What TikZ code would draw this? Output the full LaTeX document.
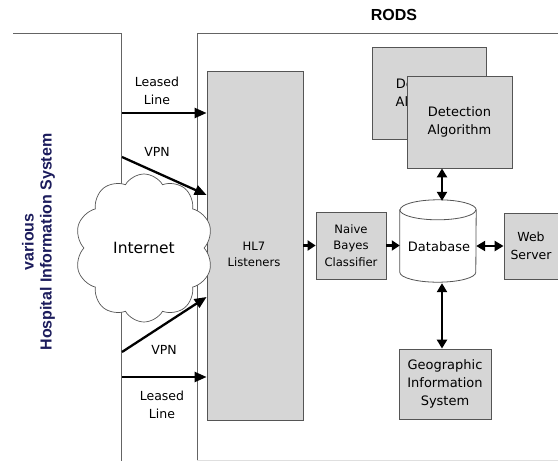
\documentclass[tikz,border=0pt]{standalone}
\usepackage{fontspec}
\setmainfont{DejaVu Sans}
\newfontfamily\arialb{Liberation Sans}[BoldFont={Liberation Sans Bold}]
\usetikzlibrary{arrows.meta,shapes.symbols}
\definecolor{boxfill}{RGB}{214,214,214}
\definecolor{edge}{RGB}{85,85,85}
\definecolor{framec}{RGB}{100,100,100}
\definecolor{navy}{RGB}{28,28,92}
\begin{document}
\begin{tikzpicture}[x=1pt,y=-1pt,
 box/.style={draw=edge, line width=0.8pt, fill=boxfill, align=center, inner sep=0pt},
 frameline/.style={draw=framec, line width=0.8pt},
 arr/.style={line width=2.3pt, -{Triangle[length=12pt,width=10pt]}},
 dbl/.style={line width=2.3pt, {Triangle[length=9pt,width=10pt]}-{Triangle[length=9pt,width=10pt]}},
 sarr/.style={line width=2.3pt, -{Triangle[length=8pt,width=10pt]}},
 lbl/.style={font=\fontsize{12.5}{18}\selectfont, align=center, inner sep=0pt},
 boxtxt/.style={font=\fontsize{13}{18}\selectfont, align=center, inner sep=0pt},
 smalltxt/.style={font=\fontsize{11.6}{16.5}\selectfont, align=center, inner sep=0pt},
]
\useasboundingbox (0,0) rectangle (558,461);

% frames
\draw[frameline] (13,33) -- (121,33) -- (121,461);
\draw[frameline] (197,461) -- (197,33) -- (558,33);
\draw[draw=gray!25, line width=0.6pt] (197,460.5) -- (558,460.5);

% titles
\node[font=\arialb\bfseries\fontsize{16}{18}\selectfont] (rods) at (394,15) {RODS};
\node[font=\arialb\bfseries\fontsize{16}{18}\selectfont, text=navy, rotate=90, align=center, inner sep=0pt] (his) at (38.5,242) {various\\Hospital Information System};

% HL7 listeners
\node[box, minimum width=96pt, minimum height=349pt] (hl7) at (255,245.5) {};
\node[smalltxt] (hl7t) at (254,254.5) {HL7\\Listeners};

% cloud
\node[cloud, cloud puffs=10, cloud puff arc=120, cloud ignores aspect, minimum width=138pt, minimum height=148pt, draw=edge, fill=white, line width=0.7pt, inner sep=0pt, font=\fontsize{15.5}{18}\selectfont] (net) at (144,248) {Internet};

% detection algorithms
\node[box, minimum width=114pt, minimum height=92pt] (det2) at (429,93) {};
\node[boxtxt] (det2t) at (427.5,93.5) {Detection\\Algorithm};
\node[box, minimum width=105pt, minimum height=92pt, boxtxt] (det1) at (459.5,122) {Detection\\Algorithm};

% other boxes
\node[box, minimum width=70pt, minimum height=67pt, smalltxt] (nbc) at (351,245.5) {Naive\\Bayes\\Classifier};
\node[box, minimum width=54pt, minimum height=66pt, font=\fontsize{12.5}{18}\selectfont] (web) at (531,246) {Web\\Server};
\node[box, minimum width=92pt, minimum height=70pt, boxtxt] (gis) at (445,384) {Geographic\\Information\\System};

% database cylinder
\node[minimum width=76pt, minimum height=82pt, inner sep=0pt] (db) at (438,241) {};
\draw[draw=edge, line width=0.8pt, fill=white]
  ([yshift=-10pt]db.north west) -- ([yshift=10pt]db.south west)
  arc[start angle=180, end angle=360, x radius=38pt, y radius=10pt]
  -- ([yshift=-10pt]db.north east)
  arc[start angle=0, end angle=180, x radius=38pt, y radius=10pt] -- cycle;
\draw[draw=edge, line width=0.8pt] ([yshift=-10pt]db.north west)
  arc[start angle=180, end angle=360, x radius=38pt, y radius=10pt];
\node[boxtxt] (dbt) at (439,247) {Database};

% connectors to HL7
\coordinate (l1) at (122,113);
\coordinate (v1) at (122,157);
\coordinate (v1e) at (207,195);
\coordinate (v2) at (122,352);
\coordinate (v2e) at (207,297);
\coordinate (l2) at (122,377);
\draw[arr] (l1) -- (hl7.west |- l1);
\draw[arr] (v1) -- (hl7.west |- v1e);
\draw[arr] (v2) -- (hl7.west |- v2e);
\draw[arr] (l2) -- (hl7.west |- l2);

\node[lbl] (ll1) at (157,91) {Leased\\Line};
\node[lbl] (vpn1) at (157,152) {VPN};
\node[lbl] (vpn2) at (164,350) {VPN};
\node[lbl] (ll2) at (162,405) {Leased\\Line};

% internal connectors
\coordinate (ax) at (442,0);
\draw[sarr] (hl7.east |- nbc.west) -- (nbc.west);
\draw[sarr] (nbc.east) -- (db.west |- nbc.east);
\draw[dbl] (db.east |- web.west) -- (web.west);
\draw[dbl] (det1.south -| ax) -- ([yshift=-1pt]db.north -| ax);
\draw[dbl] ([yshift=-1pt]db.south -| ax) -- (gis.north -| ax);
\end{tikzpicture}
\end{document}
